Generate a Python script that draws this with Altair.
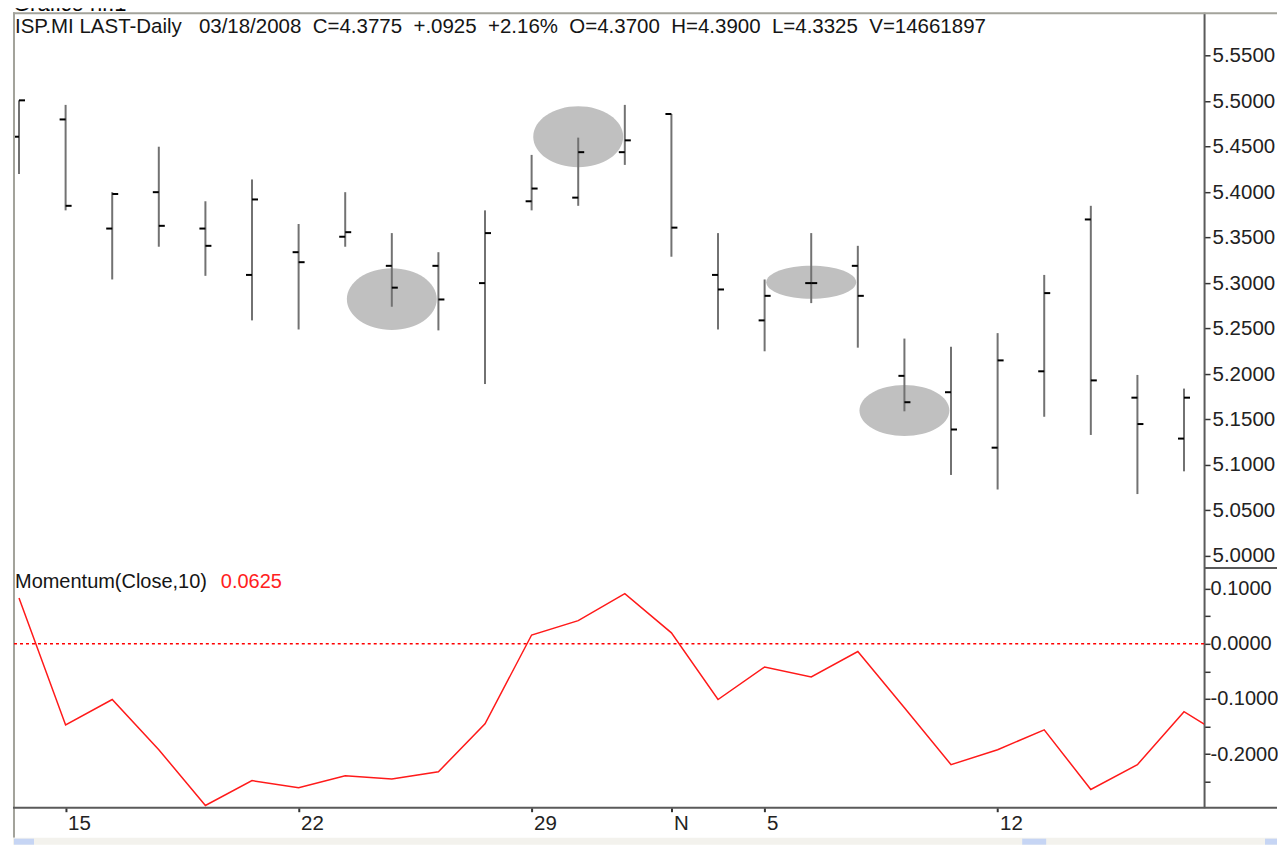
import altair as alt
import pandas as pd

FONT = "Liberation Sans"

TITLE = "Grafico nr.1"
HEADER = "ISP.MI LAST-Daily   03/18/2008  C=4.3775  +.0925  +2.16%  O=4.3700  H=4.3900  L=4.3325  V=14661897"
MOM_LABEL = "Momentum(Close,10)"
MOM_VALUE = "0.0625"

# daily OHLC bars (trading-day index 0..25)
OPEN = [5.461, 5.480, 5.360, 5.400, 5.360, 5.309, 5.334, 5.351, 5.319, 5.319, 5.300, 5.390, 5.394,
        5.444, 5.486, 5.309, 5.259, 5.300, 5.319, 5.198, 5.180, 5.119, 5.203, 5.370, 5.174, 5.129]
HIGH = [5.501, 5.496, 5.400, 5.450, 5.390, 5.414, 5.365, 5.400, 5.355, 5.334, 5.380, 5.441, 5.460,
        5.496, 5.486, 5.355, 5.304, 5.355, 5.341, 5.239, 5.230, 5.245, 5.309, 5.385, 5.199, 5.184]
LOW = [5.420, 5.380, 5.304, 5.340, 5.308, 5.259, 5.249, 5.340, 5.274, 5.248, 5.189, 5.380, 5.385,
       5.430, 5.329, 5.249, 5.225, 5.278, 5.229, 5.159, 5.089, 5.073, 5.153, 5.133, 5.068, 5.093]
CLOSE = [5.501, 5.385, 5.398, 5.363, 5.341, 5.392, 5.323, 5.356, 5.295, 5.282, 5.355, 5.404, 5.444,
         5.457, 5.361, 5.293, 5.286, 5.300, 5.286, 5.169, 5.139, 5.215, 5.289, 5.193, 5.145, 5.174]
MOMENTUM = [0.083, -0.147, -0.101, -0.192, -0.293, -0.248, -0.261, -0.239, -0.245, -0.232, -0.145,
            0.016, 0.042, 0.091, 0.020, -0.101, -0.042, -0.060, -0.014, -0.116, -0.219, -0.192,
            -0.156, -0.264, -0.219, -0.123, -0.175]

XTICK_IDX = [1, 6, 11, 14, 16, 21]
XTICK_LABELS = ["15", "22", "29", "N", "5", "12"]
PRICE_TICKS = [5.0, 5.05, 5.1, 5.15, 5.2, 5.25, 5.3, 5.35, 5.4, 5.45, 5.5, 5.55]
MOM_TICKS = [-0.25, -0.2, -0.15, -0.1, -0.05, 0.0, 0.05, 0.1]

# highlighted areas (ellipses): bar index and price of centre
ELL_IDX = [8, 12, 17, 19]
ELL_PRICE = [5.2824, 5.461, 5.301, 5.160]

NB = "\u00a0"

bars = pd.DataFrame({"i": list(range(len(OPEN))), "open": OPEN, "high": HIGH, "low": LOW, "close": CLOSE})
mom = pd.DataFrame({"i": list(range(len(MOMENTUM))), "m": MOMENTUM})
ell = pd.DataFrame({"k": list(range(len(ELL_IDX))), "i": ELL_IDX, "p": ELL_PRICE})
one = pd.DataFrame({"d": [0]})

W = 1192
H_TOP = 4
H_PRICE = 556
H_MOM = 240
RIGHT_END = 1265

xs = alt.Scale(domain=[-0.129, 25.43], nice=False, zero=False)
ys = alt.Scale(domain=[4.9868, 5.5978], nice=False, zero=False)
ms = alt.Scale(domain=[-0.2971, 0.1377], nice=False, zero=False)

X = alt.X("i:Q", scale=xs, axis=None)

price_axis = alt.Axis(orient="right", values=PRICE_TICKS, format=".4f", tickSize=6, tickWidth=1.5,
                      tickColor="#333333", domainColor="#5a5a5a", domainWidth=2, labelFont=FONT,
                      labelFontSize=20.5, labelColor="#222222", labelPadding=2, labelBaseline="middle",
                      grid=False, title=None, labelOverlap=False, labelFlush=False)

mom_label_expr = ("abs(round(datum.value*20)) % 2 == 1 ? '' : (datum.value < -0.00001 ? '-' + "
                  "format(abs(datum.value), '.4f') : '" + NB + "' + format(abs(datum.value), '.4f'))")
mom_axis = alt.Axis(orient="right", values=MOM_TICKS, labelExpr=mom_label_expr, tickSize=6, tickWidth=1.5,
                    tickColor="#333333", domainColor="#5a5a5a", domainWidth=2, labelFont=FONT,
                    labelFontSize=20, labelColor="#222222", labelPadding=0, labelBaseline="middle",
                    grid=False, title=None, labelOverlap=False, labelFlush=False)

x_label_expr = ("[" + ",".join("'" + s + "'" for s in XTICK_LABELS) + "][indexof(["
                + ",".join(str(v) for v in XTICK_IDX) + "], datum.value)]")
x_axis = alt.Axis(values=XTICK_IDX, labelExpr=x_label_expr, tickSize=4, tickWidth=2, tickColor="#333333",
                  domain=False, labelFont=FONT, labelFontSize=20.5, labelColor="#222222", labelAlign="left",
                  labelOffset=2, labelPadding=2, labelBaseline="top", grid=False, title=None,
                  labelFlush=False, labelOverlap=False)


def ellipse_path(r, k=0.5523):
    a = k * r
    return (f"M-1,0C-1,{-a:.4f},{-k},{-r:.4f},0,{-r:.4f}"
            f"C{k},{-r:.4f},1,{-a:.4f},1,0"
            f"C1,{a:.4f},{k},{r:.4f},0,{r:.4f}"
            f"C{-k},{r:.4f},-1,{a:.4f},-1,0Z")


# ---------- top strip with the (cut) title ----------
top = alt.Chart(pd.DataFrame({"t": [TITLE]})).mark_text(
    align="left", baseline="alphabetic", font=FONT, fontSize=22, color="#000000", clip=True
).encode(x=alt.value(0), y=alt.value(3), text="t:N").properties(width=W, height=H_TOP)

# ---------- price panel ----------
ell_ratios = [0.689, 0.678, 0.367, 0.567]
ell_layers = []
for k, r in enumerate(ell_ratios):
    ell_layers.append(
        alt.Chart(ell).transform_filter(alt.datum.k == k).mark_point(
            shape=ellipse_path(r), size=8100, filled=True, fill="#c0c0c0", opacity=1, strokeWidth=0
        ).encode(x=X, y=alt.Y("p:Q", scale=ys, axis=price_axis))
    )

base = alt.Chart(bars)
hl = base.mark_rule(color="#727272", strokeWidth=2).encode(
    x=X, y=alt.Y("low:Q", scale=ys, axis=price_axis), y2="high:Q")
op = base.mark_rule(color="#000000", strokeWidth=2, xOffset=-6, x2Offset=0).encode(
    x=X, x2=alt.X2("i"), y=alt.Y("open:Q", scale=ys, axis=price_axis))
cl = base.mark_rule(color="#000000", strokeWidth=2, xOffset=0, x2Offset=6).encode(
    x=X, x2=alt.X2("i"), y=alt.Y("close:Q", scale=ys, axis=price_axis))

header = alt.Chart(pd.DataFrame({"t": [HEADER.replace(" ", NB)]})).mark_text(
    align="left", baseline="alphabetic", font=FONT, fontSize=20.5, color="#151515"
).encode(x=alt.value(2), y=alt.value(21), text="t:N")

frame = alt.Chart(one)
top_border = frame.mark_rule(color="#a3a39b", strokeWidth=2).encode(
    x=alt.value(0), x2=alt.value(RIGHT_END), y=alt.value(1))
left_border = frame.mark_rule(color="#a3a39b", strokeWidth=2).encode(
    x=alt.value(1), y=alt.value(0), y2=alt.value(H_PRICE + 270))

price = alt.layer(*ell_layers, hl, op, cl, header, top_border, left_border).properties(
    width=W, height=H_PRICE)

# ---------- momentum panel ----------
zero = alt.Chart(pd.DataFrame({"z": [0.0]})).mark_rule(
    color="#ff0000", strokeDash=[3, 3], strokeWidth=1.5
).encode(y=alt.Y("z:Q", scale=ms, axis=mom_axis))

mline = alt.Chart(mom).mark_line(color="#ff1a1a", strokeWidth=1.5, clip=True).encode(
    x=alt.X("i:Q", scale=xs, axis=x_axis), y=alt.Y("m:Q", scale=ms, axis=mom_axis))

mlabel = alt.Chart(pd.DataFrame({"t": [MOM_LABEL]})).mark_text(
    align="left", baseline="alphabetic", font=FONT, fontSize=20, color="#151515"
).encode(x=alt.value(2), y=alt.value(20), text="t:N")
mvalue = alt.Chart(pd.DataFrame({"t": [MOM_VALUE]})).mark_text(
    align="left", baseline="alphabetic", font=FONT, fontSize=20, color="#ff2020"
).encode(x=alt.value(208), y=alt.value(20), text="t:N")

divider = frame.mark_rule(color="#5a5a5a", strokeWidth=2).encode(
    x=alt.value(W), x2=alt.value(RIGHT_END), y=alt.value(0))
xline = frame.mark_rule(color="#5a5a5a", strokeWidth=2).encode(
    x=alt.value(0), x2=alt.value(RIGHT_END), y=alt.value(H_MOM))

SB_Y0, SB_Y1 = 270, 277
sb_bg = frame.mark_rect(color="#f3f2ed").encode(
    x=alt.value(0), x2=alt.value(RIGHT_END), y=alt.value(SB_Y0), y2=alt.value(SB_Y1))
sb_left = frame.mark_rect(color="#c6d5f4").encode(
    x=alt.value(1), x2=alt.value(21), y=alt.value(SB_Y0 + 1), y2=alt.value(SB_Y1))
sb_thumb = frame.mark_rect(color="#c6d5f4").encode(
    x=alt.value(1010), x2=alt.value(1034), y=alt.value(SB_Y0 + 1), y2=alt.value(SB_Y1))
sb_right = frame.mark_rect(color="#c6d5f4").encode(
    x=alt.value(1253), x2=alt.value(RIGHT_END), y=alt.value(SB_Y0 + 1), y2=alt.value(SB_Y1))

momentum = alt.layer(zero, mline, mlabel, mvalue, divider, xline, sb_bg, sb_left, sb_thumb, sb_right).properties(
    width=W, height=H_MOM)

chart = alt.vconcat(top, price, momentum, spacing=0, bounds="flush").resolve_scale(
    x="independent", y="independent"
).properties(
    padding={"left": 4, "top": 0, "right": 0, "bottom": 0}
).configure_view(stroke=None)

chart.save("out.html", embed_options={"renderer": "svg", "actions": False})
